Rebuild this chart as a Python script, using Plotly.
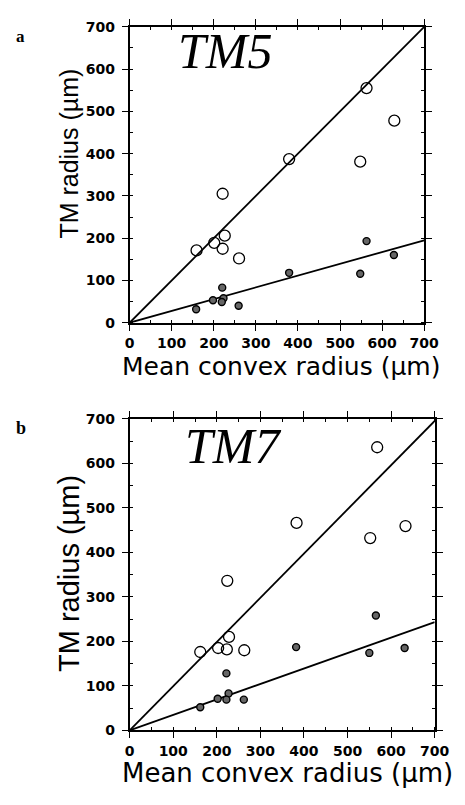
import plotly.graph_objects as go

# ---- data ----
tm5_x_open = [159, 201, 221, 226, 221, 260, 379, 563, 548, 629]
tm5_y_open = [171, 189, 305, 206, 175, 152, 387, 555, 381, 478]
tm5_x_fill = [158, 198, 220, 223, 219, 259, 379, 563, 548, 628]
tm5_y_fill = [32, 53, 83, 58, 49, 40, 118, 193, 116, 160]

tm7_x_open = [162, 203, 224, 228, 223, 263, 383, 568, 552, 633]
tm7_y_open = [176, 185, 336, 210, 182, 180, 466, 636, 432, 459]
tm7_x_fill = [162, 202, 222, 227, 222, 262, 382, 565, 550, 631]
tm7_y_fill = [52, 71, 128, 83, 69, 69, 187, 258, 174, 185]

fit_x = [0, 700]
tm5_fit_open = [0, 700]
tm5_fit_fill = [0, 195]
tm7_fit_open = [0, 695]
tm7_fit_fill = [0, 243]

tick_vals = [0, 100, 200, 300, 400, 500, 600, 700]
tick_text = ["0", "100", "200", "300", "400", "500", "600", "700"]

# page body has an 8px default margin; lay out in window pixels
OFF = 8
W, H = 465 - OFF, 805 - OFF

def fx(px):
    return (px - OFF) / W

def fy(py):
    return 1 - (py - OFF) / H

fig = go.Figure()

def add_panel(xa, ya, xo, yo, xf, yf, fo, ff):
    fig.add_trace(go.Scatter(x=fit_x, y=fo, mode="lines", xaxis=xa, yaxis=ya,
                             line=dict(color="black", width=1.8), showlegend=False))
    fig.add_trace(go.Scatter(x=fit_x, y=ff, mode="lines", xaxis=xa, yaxis=ya,
                             line=dict(color="black", width=1.8), showlegend=False))
    fig.add_trace(go.Scatter(x=xo, y=yo, mode="markers", xaxis=xa, yaxis=ya,
                             marker=dict(symbol="circle-open", size=11, color="black",
                                         line=dict(width=1.3)), showlegend=False))
    fig.add_trace(go.Scatter(x=xf, y=yf, mode="markers", xaxis=xa, yaxis=ya,
                             marker=dict(symbol="circle", size=7, color="#666666",
                                         line=dict(width=1.4, color="black")), showlegend=False))

add_panel("x", "y", tm5_x_open, tm5_y_open, tm5_x_fill, tm5_y_fill, tm5_fit_open, tm5_fit_fill)
add_panel("x2", "y2", tm7_x_open, tm7_y_open, tm7_x_fill, tm7_y_fill, tm7_fit_open, tm7_fit_fill)

tickfont = dict(family="DejaVu Sans", size=14, color="black", weight="bold")
axis_common = dict(range=[0, 700], tickmode="array", tickvals=tick_vals, ticktext=tick_text,
                   ticks="outside", ticklen=6, tickwidth=1.3, tickcolor="black",
                   showline=True, linecolor="black", linewidth=1.8, mirror="ticks",
                   showgrid=False, zeroline=False, tickfont=tickfont,
                   minor=dict(ticks="inside", ticklen=3, tickwidth=1, tickcolor="black", dtick=50))

fig.update_layout(
    width=W, height=H, margin=dict(l=0, r=0, t=0, b=0),
    paper_bgcolor="white", plot_bgcolor="white",
    xaxis=dict(domain=[fx(130), fx(438)], anchor="y", ticklabelstandoff=1, **axis_common),
    yaxis=dict(domain=[fy(321), fy(19)], anchor="x", ticklabelstandoff=4, **axis_common),
    xaxis2=dict(domain=[fx(130), fx(449)], anchor="y2", ticklabelstandoff=1, **axis_common),
    yaxis2=dict(domain=[fy(737), fy(419)], anchor="x2", ticklabelstandoff=4, **axis_common),
)

def px_ann(text, x, y, size, family, rot=0, weight="normal", style="normal"):
    fig.add_annotation(text=text, x=fx(x), y=fy(y), xref="paper", yref="paper",
                       showarrow=False, textangle=rot, xanchor="center", yanchor="middle",
                       font=dict(family=family, size=size, color="black", weight=weight, style=style))

# axis titles
px_ann("TM radius (µm)", 67, 148, 25, "Liberation Sans", rot=-90)
px_ann("Mean convex radius (µm)", 288, 366, 25, "DejaVu Sans")
px_ann("TM radius (µm)", 66, 577, 29, "Liberation Sans", rot=-90)
px_ann("Mean convex radius (µm)", 295, 781, 26, "DejaVu Sans")

# panel letters
px_ann("a", 16, 29, 17, "Liberation Serif", weight="bold")
px_ann("b", 16, 428, 18, "Liberation Serif", weight="bold")

# panel titles
px_ann("TM5", 230, 44, 50, "Liberation Serif", style="italic")
px_ann("TM7", 238, 447, 50, "Liberation Serif", style="italic")

fig.write_html("out.html")
